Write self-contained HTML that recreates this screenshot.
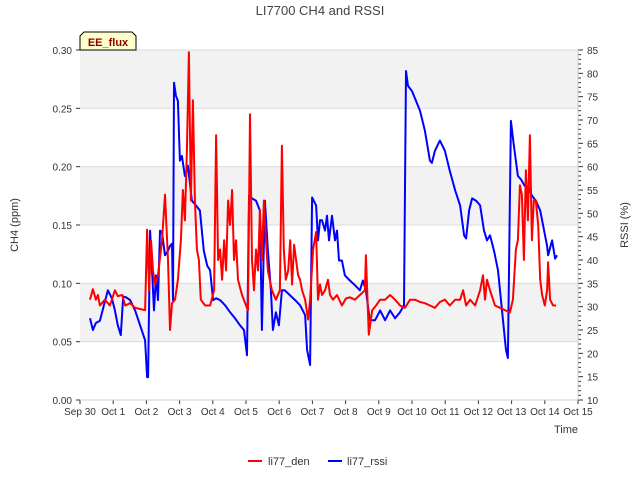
<!DOCTYPE html>
<html><head><meta charset="utf-8"><style>
body{margin:0;background:#fff;}
svg{display:block;font-family:"Liberation Sans","DejaVu Sans",sans-serif;}
</style></head><body>
<svg id="chart" width="640" height="480" xmlns="http://www.w3.org/2000/svg">
<g id="bands"></g><g id="grid"></g><g id="axes"></g><g id="series"></g>
<text x="320" y="15" text-anchor="middle" font-size="13" fill="#444">LI7700 CH4 and RSSI</text>
<text x="18" y="225" font-size="11" fill="#333" text-anchor="middle" transform="rotate(-90 18 225)">CH4 (ppm)</text>
<text x="628" y="225" font-size="11" fill="#333" text-anchor="middle" transform="rotate(-90 628 225)">RSSI (%)</text>
<text x="578" y="433" font-size="11" fill="#333" text-anchor="end">Time</text>
<g>
<path d="M80,50 L80,36 L84,32 L132,32 L136,36 L136,50 Z" fill="#ffffcc" stroke="#000" stroke-width="1"/>
<text x="108" y="46" font-size="11" font-weight="bold" fill="#8b0000" text-anchor="middle">EE_flux</text>
</g>
<g>
<g><line x1="248" y1="461" x2="262" y2="461" stroke="#f00" stroke-width="2"/><text x="268" y="465" font-size="11" fill="#333">li77_den</text></g>
<g><line x1="328" y1="461" x2="342" y2="461" stroke="#00f" stroke-width="2"/><text x="347" y="465" font-size="11" fill="#333">li77_rssi</text></g>
</g>
</svg>
<script>
const xTickLabels=["Sep 30","Oct 1","Oct 2","Oct 3","Oct 4","Oct 5","Oct 6","Oct 7","Oct 8","Oct 9","Oct 10","Oct 11","Oct 12","Oct 13","Oct 14","Oct 15"];
const leftTicks=[0,0.05,0.10,0.15,0.20,0.25,0.30];
const rightTicks=[10,15,20,25,30,35,40,45,50,55,60,65,70,75,80,85];
const denDays=[0.30,0.39,0.48,0.54,0.60,0.75,0.90,1.05,1.14,1.27,1.36,1.51,1.66,1.81,1.96,2.02,2.08,2.14,2.20,2.26,2.35,2.47,2.56,2.65,2.71,2.77,2.86,2.95,3.04,3.10,3.16,3.22,3.28,3.34,3.40,3.46,3.52,3.58,3.64,3.77,3.92,4.04,4.10,4.16,4.22,4.28,4.34,4.40,4.46,4.52,4.58,4.64,4.70,4.76,4.88,5.00,5.06,5.12,5.18,5.24,5.30,5.36,5.42,5.48,5.54,5.60,5.66,5.78,5.90,6.02,6.08,6.14,6.20,6.27,6.33,6.39,6.45,6.51,6.57,6.63,6.69,6.78,6.87,6.93,7.02,7.11,7.17,7.23,7.29,7.38,7.47,7.53,7.62,7.74,7.89,8.01,8.13,8.28,8.43,8.58,8.61,8.70,8.80,8.92,9.04,9.19,9.34,9.49,9.64,9.79,9.94,10.09,10.24,10.39,10.54,10.69,10.84,10.99,11.14,11.30,11.45,11.54,11.63,11.75,11.90,12.05,12.14,12.20,12.26,12.35,12.50,12.65,12.80,12.95,13.04,13.13,13.19,13.25,13.31,13.37,13.43,13.49,13.55,13.61,13.67,13.73,13.80,13.86,13.92,14.00,14.07,14.10,14.16,14.25,14.34];
const denVals=[0.086,0.095,0.086,0.09,0.081,0.086,0.081,0.094,0.089,0.09,0.081,0.083,0.079,0.078,0.077,0.146,0.094,0.137,0.111,0.099,0.107,0.137,0.176,0.12,0.06,0.083,0.086,0.103,0.137,0.18,0.154,0.214,0.298,0.171,0.257,0.171,0.129,0.12,0.086,0.081,0.081,0.094,0.227,0.12,0.129,0.103,0.137,0.111,0.171,0.15,0.18,0.12,0.137,0.103,0.09,0.081,0.077,0.245,0.12,0.094,0.129,0.111,0.163,0.12,0.171,0.137,0.111,0.094,0.086,0.094,0.218,0.129,0.103,0.111,0.137,0.099,0.133,0.12,0.107,0.103,0.094,0.086,0.069,0.086,0.129,0.144,0.086,0.099,0.09,0.094,0.103,0.09,0.086,0.09,0.081,0.087,0.088,0.086,0.09,0.094,0.124,0.056,0.077,0.081,0.086,0.086,0.09,0.086,0.081,0.079,0.086,0.086,0.084,0.083,0.081,0.079,0.084,0.086,0.081,0.086,0.086,0.094,0.081,0.086,0.081,0.094,0.107,0.086,0.103,0.094,0.081,0.079,0.077,0.075,0.086,0.129,0.137,0.184,0.176,0.12,0.197,0.154,0.227,0.137,0.171,0.171,0.15,0.103,0.09,0.081,0.094,0.118,0.086,0.081,0.081];
const rssiDays=[0.30,0.39,0.48,0.60,0.72,0.84,0.96,1.05,1.14,1.23,1.30,1.39,1.51,1.66,1.81,1.96,2.02,2.05,2.11,2.17,2.23,2.29,2.35,2.41,2.47,2.56,2.65,2.71,2.77,2.80,2.83,2.89,2.95,3.01,3.07,3.16,3.25,3.37,3.49,3.61,3.73,3.83,3.92,4.01,4.10,4.22,4.37,4.52,4.67,4.82,4.94,5.03,5.09,5.18,5.30,5.42,5.48,5.57,5.66,5.75,5.81,5.90,5.99,6.08,6.17,6.33,6.48,6.63,6.78,6.84,6.93,6.99,7.11,7.17,7.23,7.29,7.38,7.44,7.50,7.59,7.68,7.74,7.80,7.89,7.98,8.13,8.28,8.43,8.52,8.61,8.73,8.89,9.04,9.19,9.34,9.49,9.64,9.76,9.82,9.88,10.00,10.12,10.24,10.39,10.54,10.60,10.69,10.84,10.99,11.14,11.30,11.45,11.57,11.63,11.72,11.81,11.93,12.05,12.17,12.26,12.35,12.47,12.59,12.71,12.83,12.89,12.98,13.07,13.19,13.28,13.40,13.50,13.61,13.73,13.86,13.98,14.07,14.10,14.22,14.31,14.37];
const rssiVals=[27.5,25,26.5,27,30.3,33.5,31.8,29.2,26,23.9,32.2,32,31.4,29.2,26,22.8,14.9,14.9,46.3,37.8,29.2,36.7,31.4,46.3,45.9,41,42,43,43.5,31.4,78,75.2,74.1,61.3,62.3,58,60.2,52.7,51.7,50.6,42,38.8,37.8,31.4,31.8,31.4,30.3,28.8,27.5,26,25,19.6,53.8,53.2,52.7,50.6,25,52.7,42,33.5,25,28.8,26,33.5,33.5,32.4,31.4,30.3,28.2,20.7,17.5,53.4,51.7,44.2,48.5,48.5,46.3,49.5,44.2,49.5,44.2,46.3,39.9,39.9,36.7,35.6,34.6,33.5,35.6,33.5,27.1,27.1,29.2,27.1,29.2,27.5,28.8,30.3,80.5,77.3,76.2,74.1,72,67.7,61.3,60.8,63.4,65.6,63.4,59.1,54.9,51.7,45.3,44.6,50.6,53.2,52.7,51.7,46.3,44.2,45.3,42,37.8,29.2,20.7,19,69.8,64.5,58,57.3,55.8,55.8,53.8,52.7,50.6,46.3,43,41,44.2,40.3,41];

const NS="http://www.w3.org/2000/svg";
const L=80,R=578,T=50,B=400;
const xs=d=>L+(R-L)*d/15;
const yL=v=>B-(B-T)*v/0.3;
const yR=v=>B-(B-T)*(v-10)/75;
function mk(tag,attrs,parent){const e=document.createElementNS(NS,tag);for(const k in attrs)e.setAttribute(k,attrs[k]);parent.appendChild(e);return e;}
const bands=document.getElementById('bands'),grid=document.getElementById('grid'),axes=document.getElementById('axes'),series=document.getElementById('series');
mk('rect',{x:L,y:T,width:R-L,height:B-T,fill:'#fff'},bands);
[[0.05,0.10],[0.15,0.20],[0.25,0.30]].forEach(b=>{
 const r=mk('rect',{x:L,y:yL(b[1]),width:R-L,height:yL(b[0])-yL(b[1]),fill:'#f2f2f2'},bands);
 
 
});
leftTicks.forEach(t=>{
 const g=mk('line',{x1:L,x2:R,y1:yL(t),y2:yL(t),stroke:'#dcdcdc','stroke-width':1},grid);
 
 
 mk('line',{x1:L-4,x2:L,y1:yL(t),y2:yL(t),stroke:'#333'},axes);
 const tx=mk('text',{x:L-8,y:yL(t)+4,'text-anchor':'end','font-size':10,fill:'#333'},axes);
 tx.textContent=t.toFixed(2);
 
 
});
for(let v=10;v<=85;v++){mk('line',{x1:R,x2:R+(v%5===0?5:3),y1:yR(v),y2:yR(v),stroke:'#333'},axes);}
rightTicks.forEach(t=>{
 const tx=mk('text',{x:R+9,y:yR(t)+4,'font-size':10,fill:'#333'},axes);
 tx.textContent=t;
 
 
});
xTickLabels.forEach((s,i)=>{
 mk('line',{x1:xs(i),x2:xs(i),y1:B,y2:B+4,stroke:'#333'},axes);
 const tx=mk('text',{x:xs(i),y:B+15,'text-anchor':'middle','font-size':10,fill:'#333'},axes);
 tx.textContent=s;
 
 
});
mk('line',{x1:L,x2:R,y1:B,y2:B,stroke:'#ccc'},axes);
mk('line',{x1:R,x2:R,y1:T,y2:B,stroke:'#ccc'},axes);
const dr=rssiDays.map((d,i)=>xs(d).toFixed(1)+','+yR(rssiVals[i]).toFixed(1)).join(' ');
const pr=mk('polyline',{points:dr,fill:'none',stroke:'#00f','stroke-width':2,'stroke-linejoin':'round'},series);


const dd=denDays.map((d,i)=>xs(d).toFixed(1)+','+yL(denVals[i]).toFixed(1)).join(' ');
const pd=mk('polyline',{points:dd,fill:'none',stroke:'#f00','stroke-width':2,'stroke-linejoin':'round'},series);


</script>
</body></html>
